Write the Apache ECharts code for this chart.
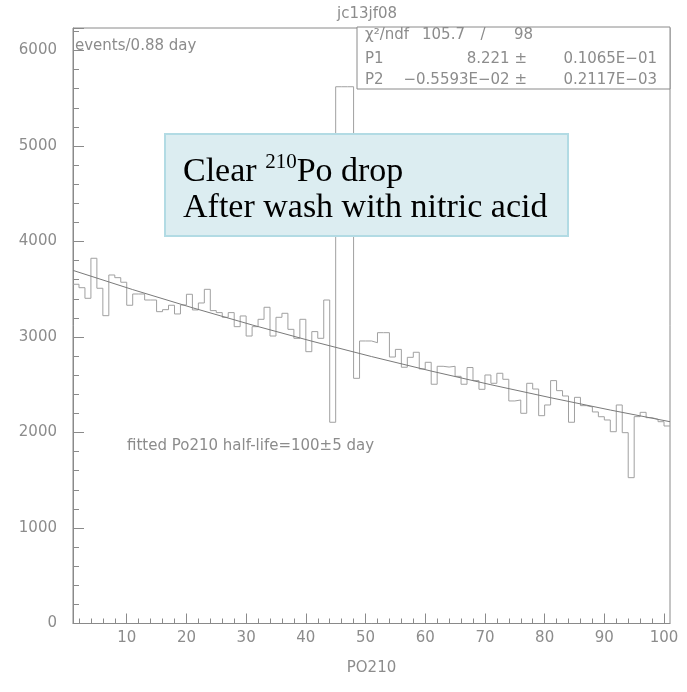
<!DOCTYPE html>
<html><head><meta charset="utf-8">
<script src="https://cdn.jsdelivr.net/npm/echarts@6/dist/echarts.min.js"></script>
<style>html,body{margin:0;padding:0;background:#fff}#c{width:687px;height:692px}</style>
</head><body><div id="c"></div>
<script>
// ---- data ----
const binStart = 1;          // lower edge of first bin
const binWidth = 1;
const counts = [
  3552,3516,3405,3824,3510,3223,3649,3621,3573,3332,
  3450,3450,3387,3387,3265,3286,3332,3241,3335,3447,
  3283,3356,3499,3276,3255,3206,3255,3108,3220,3010,
  3108,3185,3311,3010,3206,3248,3080,2986,3185,2846,
  3056,2986,3387,2107,5620,5620,5620,2567,2958,2958,
  2940,3045,3045,2790,2870,2683,2787,2840,2665,2735,
  2505,2693,2685,2693,2588,2505,2680,2543,2452,2602,
  2515,2620,2557,2330,2340,2201,2515,2455,2176,2288,
  2543,2438,2382,2107,2368,2281,2267,2215,2165,2131,
  2008,2288,1998,1527,2166,2211,2155,2138,2113,2068
];
const fitX = [1, 11, 21, 31, 41, 51, 61, 71, 81, 91, 101];
const fitY = [3697, 3496, 3306, 3126, 2956, 2795, 2643, 2500, 2364, 2235, 2113];
const xMajorTicks = [10, 20, 30, 40, 50, 60, 70, 80, 90, 100];
const xMinorTicks = [2,4,6,8,12,14,16,18,22,24,26,28,32,34,36,38,42,44,46,48,52,54,56,58,62,64,66,68,72,74,76,78,82,84,86,88,92,94,96,98];
const xRange = [1, 101];
const yRange = [0, 6235];
const yStep = 1000;
const titleText = 'jc13jf08';
const xName = 'PO210';
const yUnitText = 'events/0.88 day';
const fitNote = 'fitted Po210 half-life=100\u00b15 day';
const statRows = [
  ['\u03c7\u00b2/ndf', '105.7', '/', '98'],
  ['P1', '8.221 \u00b1', '0.1065E\u221201'],
  ['P2', '\u22120.5593E\u221202 \u00b1', '0.2117E\u221203']
];
const noteLine1 = ['Clear ', '210', 'Po drop'];
const noteLine2 = 'After wash with nitric acid';

// ---- build ----
const histData = counts.map((v, i) => [binStart + i * binWidth, v]);
histData.push([binStart + counts.length * binWidth, counts[counts.length - 1]]);
const fitData = fitX.map((x, i) => [x, fitY[i]]);

const grey = '#8a8a8a';
const txtGrey = '#8c8c8c';
const sans = 'DejaVu Sans';

const chart = echarts.init(document.getElementById('c'), null, {renderer: 'canvas'});
chart.setOption({
  animation: false,
  backgroundColor: '#fff',
  grid: {left: 73, right: 17, top: 28, bottom: 68.5, show: true, borderColor: grey, borderWidth: 1, containLabel: false},
  xAxis: [{
    type: 'value', min: xRange[0], max: xRange[1], position: 'bottom',
    axisLine: {show: true, onZero: false, lineStyle: {color: grey}},
    axisTick: {show: true, inside: true, length: 10, customValues: xMajorTicks, lineStyle: {color: grey}},
    axisLabel: {customValues: xMajorTicks, color: txtGrey, fontSize: 15, fontFamily: sans, margin: 7},
    splitLine: {show: false},
    name: xName, nameLocation: 'middle', nameGap: 37,
    nameTextStyle: {color: txtGrey, fontSize: 15, fontFamily: sans}
  }, {
    type: 'value', min: xRange[0], max: xRange[1], position: 'bottom',
    axisLine: {show: false},
    axisTick: {show: true, inside: true, length: 5, customValues: xMinorTicks, lineStyle: {color: grey}},
    axisLabel: {show: false}, splitLine: {show: false}
  }],
  yAxis: {
    type: 'value', min: yRange[0], max: yRange[1], interval: yStep,
    axisLine: {show: true, onZero: false, lineStyle: {color: grey}},
    axisTick: {show: true, inside: true, length: 11, lineStyle: {color: grey}},
    minorTick: {show: true, splitNumber: 5, length: 6, lineStyle: {color: grey}},
    axisLabel: {color: txtGrey, fontSize: 15, fontFamily: sans, margin: 16, showMaxLabel: false,
      formatter: v => String(v)},
    splitLine: {show: false}
  },
  series: [{
    type: 'line', name: 'hist', data: histData, step: 'end', xAxisIndex: 0,
    symbol: 'none', lineStyle: {color: '#a0a0a0', width: 1}, z: 2
  }, {
    type: 'line', name: 'fit', data: fitData, xAxisIndex: 0, smooth: false,
    symbol: 'none', lineStyle: {color: '#7a7a7a', width: 1}, z: 3
  }],
  graphic: [
    {type: 'text', x: 367, y: 14, style: {text: titleText, fill: txtGrey, font: '15px "DejaVu Sans"', align: 'center', verticalAlign: 'middle'}},
    {type: 'text', x: 75, y: 46, style: {text: yUnitText, fill: txtGrey, font: '15px "DejaVu Sans"', align: 'left', verticalAlign: 'middle'}},
    {type: 'text', x: 127, y: 446, style: {text: fitNote, fill: txtGrey, font: '15px "DejaVu Sans"', align: 'left', verticalAlign: 'middle'}},
    {type: 'rect', shape: {x: 357, y: 27, width: 313, height: 62}, style: {fill: '#fff', stroke: grey, lineWidth: 1}, z: 10},
    {type: 'text', x: 365, y: 35, z: 11, style: {text: statRows[0][0], fill: txtGrey, font: '15px "DejaVu Sans"', align: 'left', verticalAlign: 'middle'}},
    {type: 'text', x: 422, y: 35, z: 11, style: {text: statRows[0][1], fill: txtGrey, font: '15px "DejaVu Sans"', align: 'left', verticalAlign: 'middle'}},
    {type: 'text', x: 483, y: 35, z: 11, style: {text: statRows[0][2], fill: txtGrey, font: '15px "DejaVu Sans"', align: 'center', verticalAlign: 'middle'}},
    {type: 'text', x: 533, y: 35, z: 11, style: {text: statRows[0][3], fill: txtGrey, font: '15px "DejaVu Sans"', align: 'right', verticalAlign: 'middle'}},
    {type: 'text', x: 365, y: 59, z: 11, style: {text: statRows[1][0], fill: txtGrey, font: '15px "DejaVu Sans"', align: 'left', verticalAlign: 'middle'}},
    {type: 'text', x: 527, y: 59, z: 11, style: {text: statRows[1][1], fill: txtGrey, font: '15px "DejaVu Sans"', align: 'right', verticalAlign: 'middle'}},
    {type: 'text', x: 657, y: 59, z: 11, style: {text: statRows[1][2], fill: txtGrey, font: '15px "DejaVu Sans"', align: 'right', verticalAlign: 'middle'}},
    {type: 'text', x: 365, y: 80, z: 11, style: {text: statRows[2][0], fill: txtGrey, font: '15px "DejaVu Sans"', align: 'left', verticalAlign: 'middle'}},
    {type: 'text', x: 527, y: 80, z: 11, style: {text: statRows[2][1], fill: txtGrey, font: '15px "DejaVu Sans"', align: 'right', verticalAlign: 'middle'}},
    {type: 'text', x: 657, y: 80, z: 11, style: {text: statRows[2][2], fill: txtGrey, font: '15px "DejaVu Sans"', align: 'right', verticalAlign: 'middle'}},
    {type: 'rect', shape: {x: 165, y: 134, width: 403, height: 102}, style: {fill: '#dcedf1', stroke: '#b2dbe4', lineWidth: 2}, z: 20},
    {type: 'text', x: 183, y: 169, z: 21, style: {
      text: '{n|' + noteLine1[0] + '}{s|' + noteLine1[1] + '}{n|' + noteLine1[2] + '}',
      align: 'left', verticalAlign: 'middle',
      rich: {
        n: {fontSize: 34, fontFamily: 'Liberation Serif', fill: '#000', lineHeight: 40, verticalAlign: 'bottom'},
        s: {fontSize: 21, fontFamily: 'Liberation Serif', fill: '#000', lineHeight: 40, verticalAlign: 'top', padding: [3, 0, 0, 0]}
      }
    }},
    {type: 'text', x: 183, y: 208, z: 21, style: {text: noteLine2, fill: '#000', font: '34px "Liberation Serif"', align: 'left', verticalAlign: 'middle'}}
  ]
});
</script>
</body></html>
